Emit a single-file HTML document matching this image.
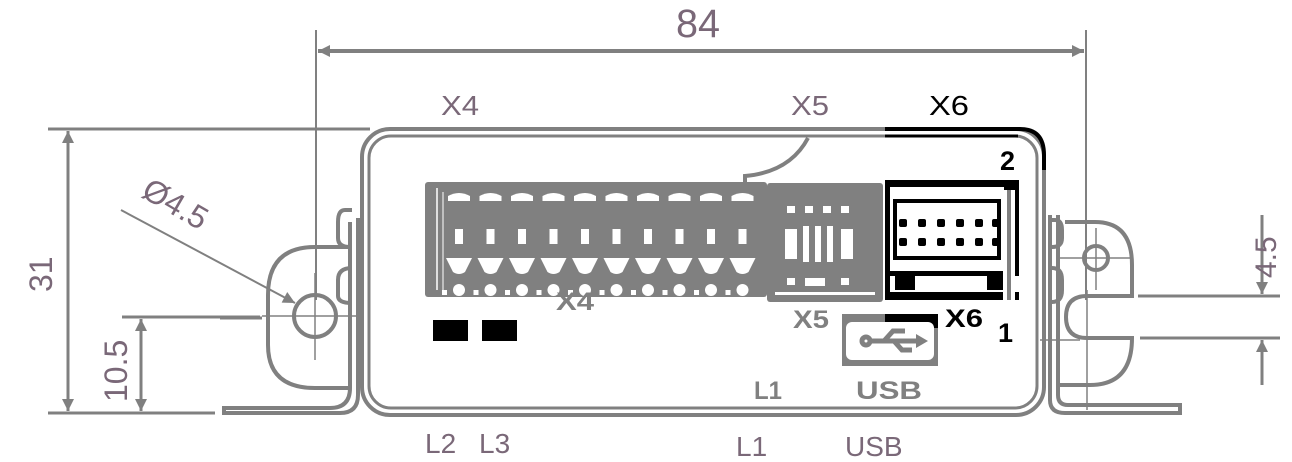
<!DOCTYPE html>
<html><head><meta charset="utf-8"><style>
html,body{margin:0;padding:0;background:#fff;width:1292px;height:462px;overflow:hidden}
svg{display:block}
.t{font-family:"Liberation Sans",sans-serif;fill:#7a6878}
.b{font-family:"Liberation Sans",sans-serif;font-weight:bold}
</style></head><body>
<svg width="1292" height="462" viewBox="0 0 1292 462" xmlns="http://www.w3.org/2000/svg">
<defs>
<marker id="ar" viewBox="0 0 10 10" refX="10" refY="5" markerWidth="14" markerHeight="12" markerUnits="userSpaceOnUse" orient="auto-start-reverse"><path d="M0,0 L10,5 L0,10 z" fill="#808080"/></marker>
</defs>
<g stroke="#808080" fill="none">
<line x1="316" y1="30" x2="316" y2="300" stroke-width="2"/>
<line x1="1086" y1="30" x2="1086" y2="300" stroke-width="2"/>
<line x1="318" y1="51" x2="1084" y2="51" stroke-width="4" marker-start="url(#ar)" marker-end="url(#ar)"/>
<line x1="48" y1="129" x2="370" y2="129" stroke-width="3"/>
<line x1="48" y1="413" x2="215" y2="413" stroke-width="3"/>
<line x1="68" y1="131" x2="68" y2="411" stroke-width="3" marker-start="url(#ar)" marker-end="url(#ar)"/>
<line x1="122" y1="317" x2="260" y2="317" stroke-width="3"/>
<line x1="141" y1="319" x2="141" y2="411" stroke-width="3" marker-start="url(#ar)" marker-end="url(#ar)"/>
<line x1="121" y1="210" x2="295" y2="303" stroke-width="2" marker-end="url(#ar)"/>
<path d="M348,247 L315,247 Q268,247 268,295 L268,345 Q268,388 315,388 L348,388" stroke-width="4"/>
<path d="M352,210 L345,210 Q338,210 338,222 L338,238 Q338,247 350,247" stroke-width="4"/>
<path d="M352,268 Q338,268 338,280 L338,296 Q338,303 352,303" stroke-width="4"/>
<circle cx="315" cy="316" r="21" stroke-width="4"/>
<line x1="315" y1="273" x2="315" y2="360" stroke-width="1.5"/>
<line x1="262" y1="316" x2="358" y2="316" stroke-width="1.5"/>
<line x1="220" y1="318" x2="262" y2="318" stroke-width="3"/>
<path d="M350,222 L350,388 Q350,408 330,408 L224,408 L224,413 L340,413 Q358,413 358,395 L358,218" stroke-width="4"/>
<path d="M1050,220 L1055,220 Q1062,220 1062,230 L1062,238 Q1062,247 1052,247" stroke-width="4"/>
<path d="M1052,268 Q1062,268 1062,280 L1062,290 Q1062,302 1052,302" stroke-width="4"/>
<path d="M1065,222 L1095,222 Q1132,222 1132,265 L1132,296 L1087,296 Q1066,296 1066,317 Q1066,338 1087,338 L1132,338 Q1132,385 1090,385 L1058,385" stroke-width="4"/>
<circle cx="1096" cy="258" r="12" stroke-width="4"/>
<line x1="1060" y1="258" x2="1132" y2="258" stroke-width="1.5"/>
<line x1="1096" y1="228" x2="1096" y2="290" stroke-width="1.5"/>
<line x1="1087" y1="290" x2="1087" y2="410" stroke-width="1.5"/>
<line x1="1040" y1="340" x2="1080" y2="340" stroke-width="1.5"/>
<path d="M1050,215 L1050,400 Q1050,413 1065,413 L1180,413 L1180,405 L1068,405 Q1058,405 1058,395 L1058,215" stroke-width="4"/>
<line x1="1138" y1="296" x2="1280" y2="296" stroke-width="3"/>
<line x1="1140" y1="338" x2="1280" y2="338" stroke-width="3"/>
<line x1="1262" y1="215" x2="1262" y2="294" stroke-width="3" marker-end="url(#ar)"/>
<line x1="1262" y1="385" x2="1262" y2="340" stroke-width="3" marker-end="url(#ar)"/>
<rect x="362" y="129" width="682" height="286" rx="28" stroke-width="4"/>
<rect x="369" y="136" width="668" height="272" rx="22" stroke-width="3"/>
<path d="M808,138 Q790,172 745,176 L745,182" stroke-width="4"/>
</g>
<g stroke="#000" fill="none">
<path d="M885,129 L1020,129 Q1044,129 1044,155 L1044,170" stroke-width="4"/>
<path d="M885,136 L1018,136" stroke-width="3"/>
</g>
<rect x="425" y="182" width="342" height="115" rx="3" fill="#808080"/>
<line x1="437" y1="188" x2="437" y2="290" stroke="#fff" stroke-width="1.5"/>
<line x1="443" y1="192" x2="443" y2="290" stroke="#fff" stroke-width="1"/>
<g fill="#fff">
<g id="pin">
<path d="M448,196 Q459,190 470,196 L470,201 L448,201 Z"/>
<rect x="455" y="229" width="8" height="15"/>
<path d="M446,258 L472,258 L465,272 Q459,276 453,272 Z"/>
<circle cx="459" cy="290" r="6"/>
<rect x="442" y="290" width="5" height="5"/>
</g>
<use href="#pin" x="31.5"/><use href="#pin" x="63"/><use href="#pin" x="94.5"/><use href="#pin" x="126"/>
<use href="#pin" x="157.5"/><use href="#pin" x="189"/><use href="#pin" x="220.5"/><use href="#pin" x="252"/><use href="#pin" x="283.5"/>
</g>
<rect x="767" y="183" width="116" height="119" rx="3" fill="#808080"/>
<g fill="#fff">
<rect x="787" y="206" width="8" height="7"/><rect x="805" y="206" width="8" height="7"/><rect x="823" y="206" width="8" height="7"/><rect x="841" y="206" width="8" height="7"/>
<rect x="785" y="229" width="12" height="30"/><rect x="803" y="226" width="6" height="36"/><rect x="815" y="226" width="6" height="36"/><rect x="827" y="226" width="6" height="36"/><rect x="841" y="229" width="12" height="30"/>
<rect x="787" y="278" width="8" height="7"/><rect x="805" y="278" width="20" height="8"/><rect x="841" y="278" width="8" height="7"/>
<rect x="775" y="292" width="100" height="3"/>
</g>
<rect x="885" y="180" width="134" height="120" fill="#000"/>
<rect x="890" y="187" width="114" height="84" fill="#fff"/>
<rect x="893" y="199" width="108" height="61" fill="#000"/>
<rect x="897" y="203" width="100" height="53" fill="#fff"/>
<g fill="#000">
<rect x="899" y="219" width="8" height="8" rx="2"/><rect x="918" y="219" width="8" height="8" rx="2"/><rect x="937" y="219" width="8" height="8" rx="2"/><rect x="956" y="219" width="8" height="8" rx="2"/><rect x="975" y="219" width="8" height="8" rx="2"/><rect x="992" y="219" width="8" height="8" rx="2"/>
<rect x="899" y="238" width="8" height="8" rx="2"/><rect x="918" y="238" width="8" height="8" rx="2"/><rect x="937" y="238" width="8" height="8" rx="2"/><rect x="956" y="238" width="8" height="8" rx="2"/><rect x="975" y="238" width="8" height="8" rx="2"/><rect x="992" y="238" width="8" height="8" rx="2"/>
</g>
<rect x="890" y="276" width="130" height="16" fill="#fff"/>
<rect x="895" y="273" width="20" height="17" fill="#000"/><rect x="987" y="273" width="20" height="17" fill="#000"/>
<rect x="1003" y="190" width="12" height="110" fill="#fff"/>
<rect x="1007" y="190" width="4" height="110" fill="#808080"/>
<rect x="433" y="320" width="35" height="21" fill="#000"/>
<rect x="482" y="320" width="35" height="21" fill="#000"/>
<rect x="842" y="314" width="96" height="52" fill="#808080"/>
<rect x="885" y="314" width="53" height="14" fill="#000"/>
<rect x="846" y="322" width="88" height="38" rx="6" fill="#fff"/>
<g stroke="#808080" stroke-width="5" fill="none">
<circle cx="866" cy="341" r="4"/>
<line x1="870" y1="341" x2="920" y2="341"/>
<path d="M884,341 L893,331 L905,331"/>
<path d="M894,341 L902,350 L912,350"/>
</g>
<path d="M916,334 L928,341 L916,348 Z" fill="#808080"/>
<g class="b" fill="#808080" font-size="25">
<text x="556" y="310" textLength="38" lengthAdjust="spacingAndGlyphs">X4</text>
<text x="793" y="328" textLength="36" lengthAdjust="spacingAndGlyphs">X5</text>
<text x="754" y="399" textLength="28" lengthAdjust="spacingAndGlyphs">L1</text>
<text x="856" y="399" textLength="66" lengthAdjust="spacingAndGlyphs">USB</text>
</g>
<text class="b" x="945" y="327" font-size="25" fill="#000" textLength="38" lengthAdjust="spacingAndGlyphs">X6</text>
<text class="b" x="1000" y="170" font-size="27" fill="#000">2</text>
<text class="b" x="998" y="342" font-size="27" fill="#000">1</text>
<text class="t" x="676" y="37" font-size="40" textLength="44" lengthAdjust="spacingAndGlyphs">84</text>
<text class="t" x="441" y="115" font-size="28" textLength="38" lengthAdjust="spacingAndGlyphs">X4</text>
<text class="t" x="791" y="115" font-size="28" textLength="38" lengthAdjust="spacingAndGlyphs">X5</text>
<text x="929" y="115" font-size="28" font-family="Liberation Sans, sans-serif" fill="#000" textLength="40" lengthAdjust="spacingAndGlyphs">X6</text>
<text class="t" font-size="32" transform="translate(52,292) rotate(-90)">31</text>
<text class="t" font-size="32" transform="translate(127,402) rotate(-90)">10.5</text>
<text class="t" font-size="30" transform="translate(1276,278) rotate(-90)">4.5</text>
<text class="t" font-size="32" transform="translate(140,196) rotate(30)">Ø4.5</text>
<text class="t" x="425" y="453" font-size="28">L2</text>
<text class="t" x="479" y="453" font-size="28">L3</text>
<text class="t" x="736" y="456" font-size="28">L1</text>
<text class="t" x="845" y="456" font-size="28">USB</text>
</svg>
</body></html>
